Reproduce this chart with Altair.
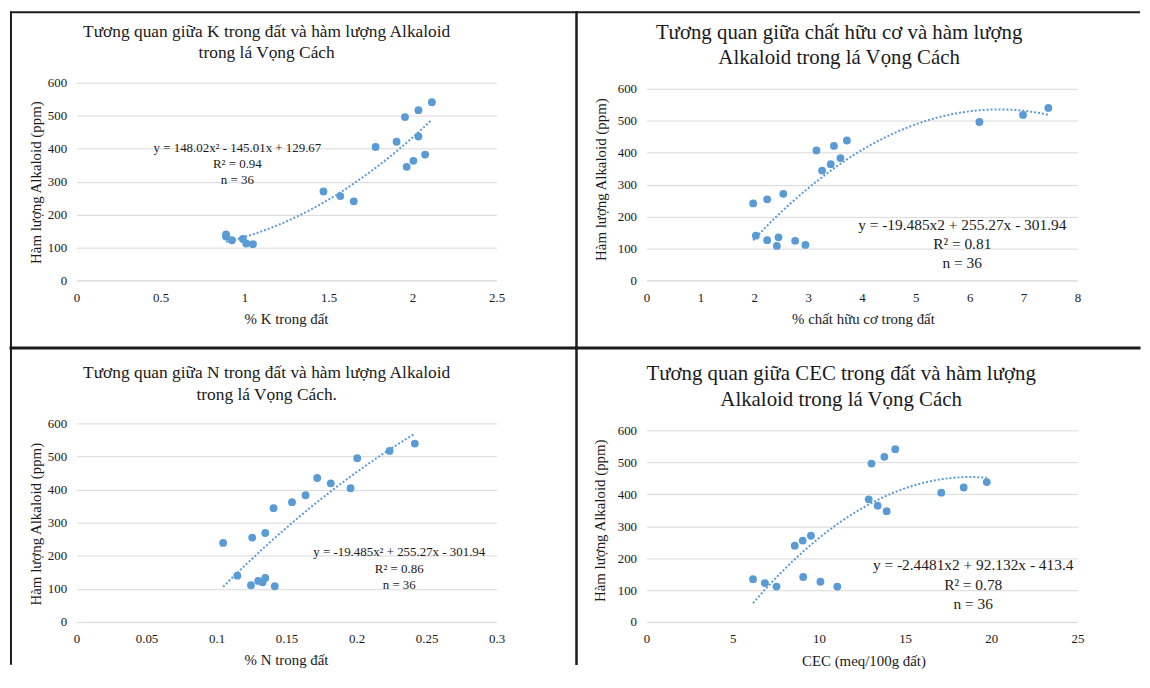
import altair as alt
import pandas as pd

SERIF = "Liberation Serif"
BLUE = "#5B9BD5"
INK = "#1a1a1a"
GRID = "#D9D9D9"
LINE = "#1c1c1c"

# ---------------- data ----------------
alk_ticks = [0, 100, 200, 300, 400, 500, 600]
y_title = "Hàm lượng Alkaloid (ppm)"

# Panel 1: K
k_pct = [0.89, 0.89, 0.925, 0.99, 1.01, 1.05, 1.47, 1.57, 1.65, 1.78, 1.905,
         1.955, 1.965, 2.005, 2.035, 2.035, 2.075, 2.115]
k_alk = [140, 133, 122, 126, 112, 110, 270, 256, 240, 405, 421,
         496, 345, 363, 517, 437, 382, 541]
k_ticks = [0, 0.5, 1, 1.5, 2, 2.5]
k_xtitle = "% K trong đất"
k_title = ["Tương quan giữa K trong đất và hàm lượng Alkaloid", "trong lá Vọng Cách"]
k_eq = ["y = 148.02x² - 145.01x + 129.67", "R² = 0.94", "n = 36"]

# Panel 2: organic matter
om_pct = [1.98, 2.03, 2.24, 2.24, 2.42, 2.45, 2.54, 2.76, 2.95, 3.155, 3.26,
          3.42, 3.48, 3.60, 3.72, 6.18, 6.99, 7.46]
om_alk = [241, 140, 254, 126, 108, 135, 271, 124, 111, 407, 344,
          364, 421, 383, 438, 496, 518, 540]
om_ticks = [0, 1, 2, 3, 4, 5, 6, 7, 8]
om_xtitle = "% chất hữu cơ trong đất"
om_title = ["Tương quan giữa chất hữu cơ và hàm lượng", "Alkaloid trong lá Vọng Cách"]
om_eq = ["y = -19.485x2 + 255.27x - 301.94", "R² = 0.81", "n = 36"]

# Panel 3: N
n_pct = [0.1047, 0.1149, 0.1246, 0.1255, 0.1298, 0.1329, 0.1348, 0.1348, 0.1407,
         0.1416, 0.1539, 0.1636, 0.1719, 0.1816, 0.1957, 0.2005, 0.2236, 0.2416]
n_alk = [239, 140, 111, 255, 124, 120, 133, 269, 344,
         108, 362, 383, 435, 419, 404, 495, 517, 539]
n_ticks = [0, 0.05, 0.1, 0.15, 0.2, 0.25, 0.3]
n_xtitle = "% N trong đất"
n_title = ["Tương quan giữa N trong đất và hàm lượng Alkaloid", "trong lá Vọng Cách."]
n_eq = ["y = -19.485x² + 255.27x - 301.94", "R² = 0.86", "n = 36"]

# Panel 4: CEC
cec_val = [6.18, 6.87, 7.54, 8.60, 9.06, 9.09, 9.54, 10.09, 11.07, 12.89, 13.05,
           13.41, 13.80, 13.93, 14.43, 17.10, 18.40, 19.74]
cec_alk = [134, 122, 111, 239, 255, 141, 270, 126, 111, 384, 496,
           364, 517, 347, 541, 405, 421, 438]
cec_ticks = [0, 5, 10, 15, 20, 25]
cec_xtitle = "CEC (meq/100g đất)"
cec_title = ["Tương quan giữa CEC trong đất và hàm lượng", "Alkaloid trong lá Vọng Cách"]
cec_eq = ["y = -2.4481x2 + 92.132x - 413.4", "R² = 0.78", "n = 36"]

ONE = alt.Data(values=[{}])


def rule(x1, x2, y1, y2, w):
    return alt.Chart(ONE).mark_rule(color=LINE, strokeWidth=w, strokeCap="square").encode(
        x=alt.value(x1), x2=alt.value(x2), y=alt.value(y1), y2=alt.value(y2))


def label(lines, x, y, size, lh, baseline):
    return alt.Chart(ONE).mark_text(
        text=lines, font=SERIF, fontSize=size, lineHeight=lh, align="center",
        baseline=baseline, color=INK).encode(x=alt.value(x), y=alt.value(y))


def panel(xs, ys, ticks, xtitle, width, height, ytop, ytitle_xy, xtitle_xy,
          title_lines, title_xy, title_fs, title_lh, eq_lines, eq_xy, eq_fs, eq_lh,
          borders):
    df = pd.DataFrame({"x": xs, "y": ys})
    xsc = alt.Scale(domain=[ticks[0], ticks[-1]], nice=False, zero=False)
    ysc = alt.Scale(domain=[alk_ticks[0], alk_ticks[-1]], nice=False, range=[height, ytop])
    xax = alt.Axis(values=ticks, format="~g", title=xtitle, grid=False, ticks=False,
                   tickSize=0, domain=True, domainColor=GRID, domainWidth=1,
                   labelFont=SERIF, labelFontSize=13, labelColor=INK, labelPadding=11,
                   labelFlush=False, labelOverlap=False,
                   titleFont=SERIF, titleFontSize=15, titleFontWeight="normal",
                   titleColor=INK, titleX=xtitle_xy[0], titleY=xtitle_xy[1],
                   titleAlign="center", titleBaseline="middle")
    yax = alt.Axis(values=alk_ticks, title=y_title, grid=True, gridColor=GRID,
                   gridWidth=1, ticks=False, tickSize=0, domain=False,
                   labelFont=SERIF, labelFontSize=13, labelColor=INK, labelPadding=10,
                   labelFlush=False, labelOverlap=False,
                   titleFont=SERIF, titleFontSize=15, titleFontWeight="normal",
                   titleColor=INK, titleX=ytitle_xy[0], titleY=ytitle_xy[1],
                   titleAlign="center", titleBaseline="middle")
    base = alt.Chart(df).encode(
        x=alt.X("x:Q", scale=xsc, axis=xax),
        y=alt.Y("y:Q", scale=ysc, axis=yax))
    pts = base.mark_circle(size=62, color=BLUE, opacity=1)
    trend = base.transform_regression("x", "y", method="poly", order=2).mark_line(
        color=BLUE, strokeWidth=2, strokeDash=[2, 2])
    layers = [pts, trend,
              label(title_lines, title_xy[0], title_xy[1], title_fs, title_lh, "alphabetic"),
              label(eq_lines, eq_xy[0], eq_xy[1], eq_fs, eq_lh, "middle")]
    layers += [rule(*b) for b in borders]
    return alt.layer(*layers).properties(width=width, height=height)


p1 = panel(k_pct, k_alk, k_ticks, k_xtitle, 423, 199, 0, (-41, 100), (211, 38),
           k_title, (191.5, -46), 17.5, 21.5, k_eq, (162, 66), 13, 16,
           [(-66, 503.5, -71, -71, 2), (-66, -66, -71, 267, 2),
            (503.5, 503.5, -71, 267, 2.5), (-66, 503.5, 267, 267, 3)])
p2 = panel(om_pct, om_alk, om_ticks, om_xtitle, 434, 199, 6, (-46, 97), (218, 38),
           om_title, (194, -44.3), 21, 25.6, om_eq, (318, 143), 15.5, 19.5,
           [(-70.5, 496, -71, -71, 2), (-70.5, 496, 267, 267, 3)])
p3 = panel(n_pct, n_alk, n_ticks, n_xtitle, 423, 200, 0, (-41, 101), (211, 38),
           n_title, (191.5, -46), 17.5, 22, n_eq, (325, 130), 13, 16.5,
           [(-66, -66, -76.5, 242, 2), (503.5, 503.5, -76.5, 242, 2.5)])
p4 = panel(cec_val, cec_alk, cec_ticks, cec_xtitle, 434, 200, 7, (-47, 97.5), (218.5, 39),
           cec_title, (196, -44), 21, 26, cec_eq, (329, 143), 15.5, 19.5, [])

chart = alt.concat(
    p1, p2, p3, p4, columns=2, spacing={"row": 144, "column": 151},
    align="each", bounds="flush"
).properties(padding=0, background="white").configure_view(stroke=None)

chart.save("out.html", embed_options={"renderer": "svg", "actions": False})
